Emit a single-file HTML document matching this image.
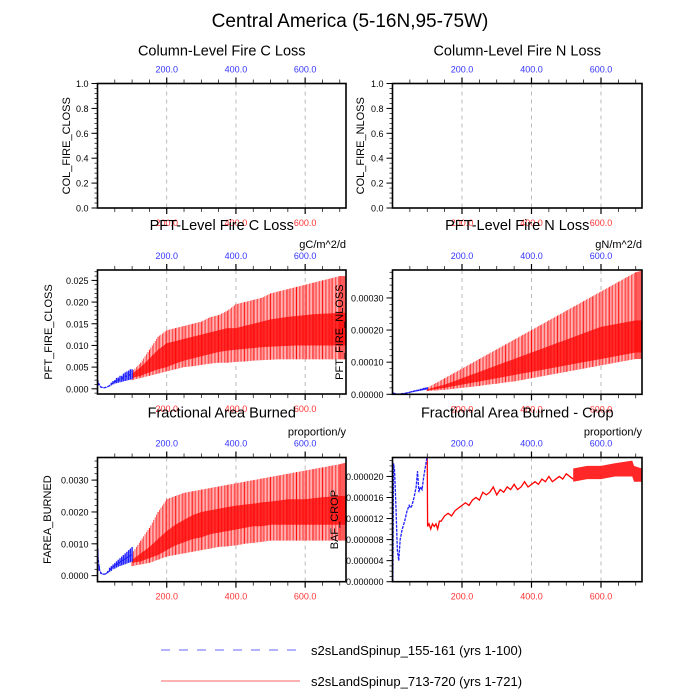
<!DOCTYPE html>
<html><head><meta charset="utf-8">
<style>
html,body{margin:0;padding:0;background:#fff;}
svg{display:block;font-family:"Liberation Sans",Arial,sans-serif;}
</style></head>
<body>
<svg id="chart" width="700" height="700" viewBox="0 0 700 700" xmlns="http://www.w3.org/2000/svg">
<text x="350" y="27" font-size="19" text-anchor="middle">Central America (5-16N,95-75W)</text>
<g id="panels"></g>
<g>
<line x1="161" y1="650" x2="297" y2="650" stroke="#6666ff" stroke-width="1" stroke-dasharray="9,9"/>
<text x="311" y="655" font-size="13">s2sLandSpinup_155-161 (yrs 1-100)</text>
<line x1="161" y1="681" x2="300" y2="681" stroke="#ff6666" stroke-width="1"/>
<text x="311" y="686" font-size="13">s2sLandSpinup_713-720 (yrs 1-721)</text>
</g>
</svg>
<script>
// ---- data ----
const redYears = [100,125,150,175,200,225,250,275,300,325,350,375,400,425,450,475,500,525,550,575,600,625,650,675,700,718];
const blueYears = [1,5,10,15,20,25,30,35,40,45,50,55,60,65,70,75,80,85,90,95,100];
const xTickLabels = ["200.0","400.0","600.0"];

const pftCMax = [.004,.006,.009,.012,.0135,.014,.0145,.015,.0155,.0165,.017,.018,.0195,.02,.0205,.021,.022,.0225,.023,.0235,.024,.0245,.025,.0255,.026,.026];
const pftCMin = [.002,.0025,.003,.0035,.004,.0045,.005,.0052,.0055,.0058,.006,.006,.0062,.0063,.0065,.0066,.0067,.0068,.0068,.0068,.0068,.0068,.0068,.0068,.0068,.0068];
const pftCHiIn = [.0035,.005,.007,.009,.0105,.011,.0115,.012,.0125,.013,.0135,.014,.014,.0145,.015,.0155,.016,.0163,.0166,.0168,.017,.0172,.0173,.0174,.0175,.0175];
const pftCLoIn = [.0025,.003,.0038,.0045,.005,.0058,.0065,.007,.0075,.008,.0085,.0088,.009,.0092,.0094,.0096,.0097,.0098,.0099,.01,.01,.01,.01,.01,.01,.01];
const blueCHi = [.002,.0012,.0005,.0003,.0003,.0004,.0006,.0009,.0014,.0018,.002,.0025,.0026,.003,.003,.0035,.0038,.004,.0042,.0045,.0045];
const blueCLo = [.0008,.0008,.0003,.0002,.0002,.0003,.0004,.0006,.0008,.001,.0012,.0013,.0014,.0015,.0016,.0017,.0018,.0019,.002,.0021,.0022];

const pftNMax = [2,3.5,5,6.5,8,9.5,11,12.5,14,15.5,17,18.5,20,21.5,23,24.5,26,27.5,29,30.5,32,33.5,35,36.5,38,38.5];
const pftNMin = [1,1.2,1.4,1.7,2,2.3,2.6,3,3.3,3.7,4,4.5,5,5.5,6,6.5,7,7.5,8,8.5,9,9.5,10,10.5,11,11];
const pftNHiIn = [1.5,2.3,3,4,5,6,7,8,9,10,11,12,13,14,15,16,17,18,19,20,21,21.5,22,22.5,23,23];
const pftNLoIn = [1.2,1.6,2,2.5,3,3.5,4,4.5,5,5.5,6,6.5,7,7.5,8,8.5,9,9.5,10,10.5,11,11.5,12,12.5,13,13];
const blueNHi = [.5,.4,.2,.1,.1,.2,.3,.4,.5,.6,.8,1,1.1,1.3,1.4,1.5,1.7,1.8,2,2.1,2.2];
const blueNLo = [.3,.2,.1,.05,.05,.1,.15,.2,.3,.4,.5,.6,.7,.8,.9,1,1.1,1.2,1.3,1.4,1.5];

const fareaMax = [7,11,15,20,24,25,26,26.5,27,27.5,28,28.5,29,29.5,30,30.5,31,31.5,32,32.5,33,33.5,34,34.5,35,35.5];
const fareaMin = [3,3.5,4,5,6,6.5,7,7.5,8,8.5,9,9.2,9.5,10,10.3,10.6,11,11,11,11,11,11,11,11,11,11];
const fareaHiIn = [5,7,9,11.5,14,16,17.5,19,20,20.5,21,21.5,22,22.3,22.6,23,23.3,23.6,24,24,24,24.3,24.6,24.8,25,25];
const fareaLoIn = [4,4.5,5.5,6.5,8,9.5,10.5,11.5,12,13,13.5,14,14.5,15,15.5,15.5,16,16,16,16,16,16,16,16,16,16];
const blueFHi = [8.5,3,1,.6,.5,.8,1.5,2.5,3,3.5,4,4.5,5,5.5,6,6.5,7,7.5,8,8.5,9];
const blueFLo = [4,1.5,.5,.4,.4,.5,.8,1.2,1.5,2,2.2,2.5,2.8,3,3.2,3.4,3.6,3.8,4,4.2,4.4];

const cropBlueYears = [1,3,6,10,14,18,22,28,35,42,48,52,56,62,68,72,76,80,85,90,95,99];
const cropBlueVals = [0,22.5,21,14,6,4,8,10,11.5,13.5,14.5,14,14.5,16,18,21,17,18,17.5,20,22,23.5];
const cropRedYears = [100,101,105,110,115,120,125,130,135,140,145,150,160,170,180,190,200,210,220,230,240,250,260,270,280,290,300,310,320,330,340,350,360,370,380,390,400,410,420,430,440,450,460,470,480,490,500,510,520];
const cropRedVals = [23.5,10.5,11,10,11,10.5,11,10,11.5,11.5,12,12.5,13,12.5,13.5,14,14.5,15,14.5,15.5,16,15.5,17,16.5,17,18,16.5,17.5,17,18,17.5,18.5,17.5,18,19,18,18.5,19,18.5,19.5,19,20,19,19.5,20,19.5,20.5,20,19.5];
const cropBandYears = [520,560,600,640,690,695,718];
const cropBandHi = [21.5,22,22,22.5,23,22,21.5];
const cropBandLo = [19,19.5,19.5,20,20,19,19];

// ---- drawing ----
const NS = "http://www.w3.org/2000/svg";
const root = document.getElementById('panels');
function mk(tag, attrs, parent){
  const e = document.createElementNS(NS, tag);
  for (const k in attrs) e.setAttribute(k, attrs[k]);
  (parent||root).appendChild(e);
  return e;
}
function panel(p){
  const g = mk('g', {});
  
  
  const X0 = 0, X1 = 718;
  const sx = v => p.x0 + (v - X0) / (X1 - X0) * (p.x1 - p.x0);
  const sy = v => p.y1 - (v - p.ymin) / (p.ymax - p.ymin) * (p.y1 - p.y0);
  p.sx = sx; p.sy = sy; p.g = g;
  const t = mk('text', {x:(p.x0+p.x1)/2, y:p.y0-p.tOff, 'font-size':14.5, 'text-anchor':'middle'}, g);
  t.textContent = p.title;
  
  
  if (p.units){
    const u = mk('text', {x:p.x1, y:p.y0-22, 'font-size':11, 'text-anchor':'end'}, g);
    u.textContent = p.units;
    
    
  }
  [200,400,600].forEach((v,i)=>{
    const gl = mk('line', {x1:sx(v), x2:sx(v), y1:p.y0, y2:p.y1, stroke:'#aaa', 'stroke-width':0.8, 'stroke-dasharray':'4,4'}, g);
    
    
    const tt = mk('text', {x:sx(v), y:p.y0-11, 'font-size':9, fill:'#3333ff', 'text-anchor':'middle'}, g);
    tt.textContent = xTickLabels[i];
    
    
    const bt = mk('text', {x:sx(v), y:p.y1+18, 'font-size':9, fill:'#ff3333', 'text-anchor':'middle'}, g);
    bt.textContent = xTickLabels[i];
    
    
  });
  for (let v=50; v<X1; v+=50){
    const major = v % 200 === 0;
    const L = major ? 6 : 4;
    mk('line', {x1:sx(v), x2:sx(v), y1:p.y0, y2:p.y0-L, stroke:'#000', 'stroke-width':major?1.2:0.7}, g);
    mk('line', {x1:sx(v), x2:sx(v), y1:p.y1, y2:p.y1+L, stroke:'#000', 'stroke-width':major?1.2:0.7}, g);
  }
  for (let v=p.ymin0; v<=p.ymax+1e-12; v+=p.minor){
    if (v < p.ymin - 1e-12) continue;
    mk('line', {x1:p.x0, x2:p.x0-3, y1:sy(v), y2:sy(v), stroke:'#000', 'stroke-width':0.7}, g);
  }
  p.yticks.forEach((v,i)=>{
    mk('line', {x1:p.x0, x2:p.x0-6, y1:sy(v), y2:sy(v), stroke:'#000', 'stroke-width':1}, g);
    const yl = mk('text', {x:p.x0-9, y:sy(v)+3.5, 'font-size':9, 'text-anchor':'end'}, g);
    yl.textContent = p.ylabels[i];
    
    
  });
  const yt = mk('text', {x:0, y:0, 'font-size':11, 'text-anchor':'middle', transform:`translate(${p.ytx},${(p.y0+p.y1)/2}) rotate(-90)`}, g);
  yt.textContent = p.ytitle;
  
  
  return g;
}
function frame(p){
  const r = mk('rect', {x:p.x0, y:p.y0, width:p.x1-p.x0, height:p.y1-p.y0, fill:'none', stroke:'#000', 'stroke-width':1.6}, p.g);
  
  
}
function rangeSeries(p, yrs, hi, lo, hiIn, loIn, scale){
  const g = mk('g', {'clip-path':'url(#c'+p.id+')'}, p.g);
  
  
  let pts = yrs.map((y,i)=>p.sx(y)+','+p.sy(hiIn[i]*scale));
  pts = pts.concat(yrs.map((y,i)=>p.sx(y)+','+p.sy(loIn[i]*scale)).reverse());
  const band = mk('polygon', {points:pts.join(' '), fill:'#ff1010', 'fill-opacity':0.8}, g);
  
  
  for (let i=0;i<yrs.length;i++){
    const l = mk('line', {x1:p.sx(yrs[i]), x2:p.sx(yrs[i]), y1:p.sy(hi[i]*scale), y2:p.sy(lo[i]*scale), stroke:'#ff0000', 'stroke-width':1, 'stroke-opacity':0.95}, g);
    
    
    if (i < yrs.length-1){
      for (let k=1;k<6;k++){
        const f = k/6;
        const yv = yrs[i]+(yrs[i+1]-yrs[i])*f;
        const h = hi[i]+(hi[i+1]-hi[i])*f, lw = lo[i]+(lo[i+1]-lo[i])*f;
        const s = mk('line', {x1:p.sx(yv), x2:p.sx(yv), y1:p.sy(h*scale), y2:p.sy(lw*scale), stroke:'#ff0000', 'stroke-width':0.8, 'stroke-opacity':0.85}, g);
        
        
      }
    }
  }
}
function blueRange(p, yrs, hi, lo, scale){
  const g = mk('g', {}, p.g);
  
  
  yrs.forEach((y,i)=>{
    const l = mk('line', {x1:p.sx(y), x2:p.sx(y), y1:p.sy(hi[i]*scale), y2:p.sy(lo[i]*scale), stroke:'#2020ff', 'stroke-width':1.4}, g);
    
    
  });
  const pts = yrs.map((y,i)=>p.sx(y)+','+p.sy((hi[i]+lo[i])/2*scale)).join(' ');
  const pl = mk('polyline', {points:pts, fill:'none', stroke:'#2020ff', 'stroke-width':1.3, 'stroke-dasharray':'3,1'}, g);
  
  
}

const defs = mk('defs', {});
const LX0=97.5, LX1=346, RX0=392.5, RX1=642;
function clip(id,p){ const c = mk('clipPath',{id:'c'+id},defs); mk('rect',{x:p.x0,y:p.y0,width:p.x1-p.x0,height:p.y1-p.y0},c); p.id=id; }

const unitYT=[0,0.2,0.4,0.6,0.8,1.0], unitYL=["0.0","0.2","0.4","0.6","0.8","1.0"];
const P1 = {name:'panel-col-fire-c', title:'Column-Level Fire C Loss', tOff:28, x0:LX0,x1:LX1,y0:83.5,y1:208,ymin:0,ymin0:0,ymax:1,minor:0.04,yticks:unitYT,ylabels:unitYL,ytitle:'COL_FIRE_CLOSS',ytx:70};
const P2 = {name:'panel-col-fire-n', title:'Column-Level Fire N Loss', tOff:28, x0:RX0,x1:RX1,y0:83.5,y1:208,ymin:0,ymin0:0,ymax:1,minor:0.04,yticks:unitYT,ylabels:unitYL,ytitle:'COL_FIRE_NLOSS',ytx:364};
const P3 = {name:'panel-pft-fire-c', title:'PFT-Level Fire C Loss', tOff:40, units:'gC/m^2/d', x0:LX0,x1:LX1,y0:270,y1:394,ymin:-0.0012,ymin0:-0.001,ymax:0.0274,minor:0.001,yticks:[0,.005,.01,.015,.02,.025],ylabels:["0.000","0.005","0.010","0.015","0.020","0.025"],ytitle:'PFT_FIRE_CLOSS',ytx:52};
const P4 = {name:'panel-pft-fire-n', title:'PFT-Level Fire N Loss', tOff:40, units:'gN/m^2/d', x0:RX0,x1:RX1,y0:270,y1:394.3,ymin:0,ymin0:0,ymax:0.000387,minor:0.00002,yticks:[0,.0001,.0002,.0003],ylabels:["0.00000","0.00010","0.00020","0.00030"],ytitle:'PFT_FIRE_NLOSS',ytx:343};
const P5 = {name:'panel-farea-burned', title:'Fractional Area Burned', tOff:40, units:'proportion/y', x0:LX0,x1:LX1,y0:457.5,y1:581.7,ymin:-0.00019,ymin0:-0.0002,ymax:0.00371,minor:0.0002,yticks:[0,.001,.002,.003],ylabels:["0.0000","0.0010","0.0020","0.0030"],ytitle:'FAREA_BURNED',ytx:51};
const P6 = {name:'panel-baf-crop', title:'Fractional Area Burned - Crop', tOff:40, units:'proportion/y', x0:RX0,x1:RX1,y0:457.5,y1:581.7,ymin:0,ymin0:0,ymax:0.0000236,minor:0.000001,yticks:[0,.000004,.000008,.000012,.000016,.00002],ylabels:["0.000000","0.000004","0.000008","0.000012","0.000016","0.000020"],ytitle:'BAF_CROP',ytx:338};

[P1,P2,P3,P4,P5,P6].forEach((p,i)=>{ clip(i,p); panel(p); });
frame(P1); frame(P2);
rangeSeries(P3, redYears, pftCMax, pftCMin, pftCHiIn, pftCLoIn, 1);
blueRange(P3, blueYears, blueCHi, blueCLo, 1);
frame(P3);
rangeSeries(P4, redYears, pftNMax, pftNMin, pftNHiIn, pftNLoIn, 1e-5);
blueRange(P4, blueYears, blueNHi, blueNLo, 1e-5);
frame(P4);
rangeSeries(P5, redYears, fareaMax, fareaMin, fareaHiIn, fareaLoIn, 1e-4);
blueRange(P5, blueYears, blueFHi, blueFLo, 1e-4);
frame(P5);
(function(){
  const p = P6;
  const g = mk('g', {'clip-path':'url(#c5)'}, p.g);
  
  
  const rl = mk('polyline', {points:cropRedYears.map((y,i)=>p.sx(y)+','+p.sy(cropRedVals[i]*1e-6)).join(' '), fill:'none', stroke:'#ff0000', 'stroke-width':1.3}, g);
  
  
  let pts = cropBandYears.map((y,i)=>p.sx(y)+','+p.sy(cropBandHi[i]*1e-6));
  pts = pts.concat(cropBandYears.map((y,i)=>p.sx(y)+','+p.sy(cropBandLo[i]*1e-6)).reverse());
  const band = mk('polygon', {points:pts.join(' '), fill:'#ff1010', 'fill-opacity':0.9}, g);
  
  
  const bl = mk('polyline', {points:cropBlueYears.map((y,i)=>p.sx(y)+','+p.sy(cropBlueVals[i]*1e-6)).join(' '), fill:'none', stroke:'#2020ff', 'stroke-width':1.3, 'stroke-dasharray':'3,1'}, p.g);
  
  
})();
frame(P6);
</script>
</body></html>
